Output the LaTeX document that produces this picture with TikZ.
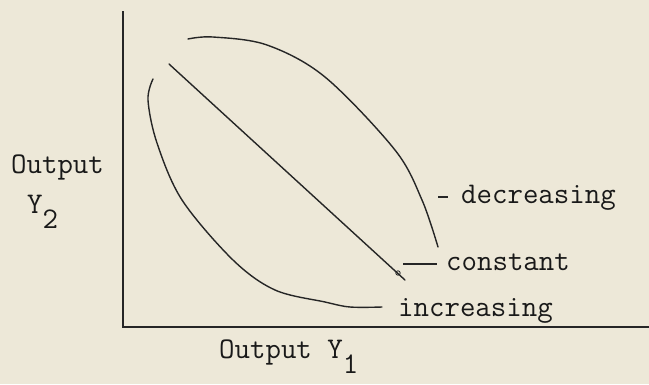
\documentclass[tikz,border=0pt]{standalone}
\usepackage{fontspec}
\begin{document}
\begin{tikzpicture}[x=1pt,y=-1pt,
  lbl/.style={inner sep=0pt,anchor=base west,font=\fontsize{30}{36}\selectfont\ttfamily,text=black!90},
  curve/.style={line width=1.4pt,black!85,line cap=round},
  axis/.style={line width=2pt,black!85}]
\fill[fill={rgb,255:red,237;green,232;blue,216}] (0,0) rectangle (649,384);
\useasboundingbox (0,0) rectangle (649,384);
% axes
\coordinate (top) at (123,11);
\coordinate (orig) at (123,327);
\coordinate (right) at (649,327);
\draw[axis] (top) -- (orig) -- (right);
% decreasing curve
\draw[curve] plot[smooth,tension=0.55] coordinates {(188,39) (213,37) (267,45) (325,77) (395,150) (422,200) (438,247)};
% constant line
\coordinate (c1) at (169,64);
\coordinate (c2) at (405,280);
\draw[curve] (c1) -- (c2);
\draw[line width=0.8pt,black!85] (398,273) circle (2.2);
% increasing curve
\draw[curve] plot[smooth,tension=0.55] coordinates {(153,79) (148,100) (157,143) (182,200) (233,260) (275,290) (325,302) (350,307) (382,307)};
% label dashes
\coordinate (d1) at (438,197);
\coordinate (d2) at (448,197);
\draw[line width=1.4pt,black!85] (d1) -- (d2);
\coordinate (e1) at (403,264);
\coordinate (e2) at (437,264);
\draw[line width=1.4pt,black!85] (e1) -- (e2);
% labels
\node[lbl] (dec) at (461,203) {decreasing};
\node[lbl] (con) at (446,270) {constant};
\node[lbl] (inc) at (398,316) {increasing};
\node[lbl] (oy2) at (11,173) {Output};
\node[lbl] (y2) at (27,213) {Y\raisebox{-15pt}{2}};
\node[lbl] (oy1) at (219,358) {Output Y\raisebox{-15pt}{1}};
\end{tikzpicture}
\end{document}
